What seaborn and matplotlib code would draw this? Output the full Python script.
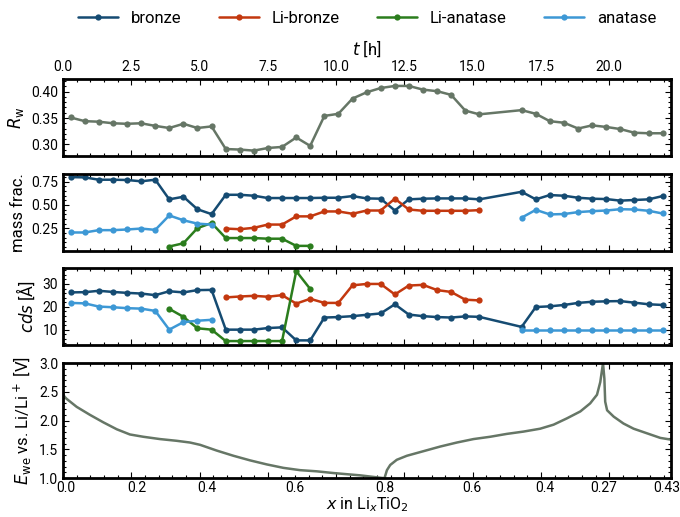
import numpy as np
import pandas as pd
import matplotlib
matplotlib.use("Agg")
import matplotlib.pyplot as plt
import matplotlib.transforms as mtransforms
from matplotlib.ticker import AutoMinorLocator, MultipleLocator
import seaborn as sns

# measurement times [h] (two scans missing around 16 h)
t_h = [0.28, 0.80, 1.31, 1.83, 2.34, 2.86, 3.38, 3.89, 4.41, 4.92, 5.44,
       5.96, 6.47, 6.99, 7.50, 8.02, 8.54, 9.05, 9.57, 10.08, 10.60,
       11.12, 11.63, 12.15, 12.66, 13.18, 13.70, 14.21, 14.73, 15.24,
       16.79, 17.31, 17.82, 18.34, 18.86, 19.37, 19.89, 20.40, 20.92, 21.44, 21.95]

rw = [0.351, 0.344, 0.343, 0.340, 0.339, 0.340, 0.335, 0.331, 0.339, 0.331, 0.334,
      0.291, 0.290, 0.288, 0.293, 0.295, 0.313, 0.297, 0.354, 0.358, 0.387,
      0.399, 0.407, 0.411, 0.411, 0.404, 0.401, 0.394, 0.364, 0.357,
      0.365, 0.358, 0.344, 0.341, 0.330, 0.336, 0.333, 0.329, 0.322, 0.321, 0.321]

N = None
# mass fractions
mf_bronze = [0.799, 0.796, 0.771, 0.771, 0.768, 0.754, 0.771, 0.560, 0.588, 0.454, 0.401,
             0.609, 0.609, 0.599, 0.574, 0.574, 0.574, 0.574, 0.577, 0.577, 0.595,
             0.570, 0.567, 0.440, 0.560, 0.567, 0.570, 0.570, 0.570, 0.560,
             0.641, 0.560, 0.606, 0.599, 0.577, 0.567, 0.563, 0.546, 0.553, 0.560, 0.595]
mf_libronze = [N, N, N, N, N, N, N, N, N, N, N,
               0.246, 0.239, 0.254, 0.289, 0.289, 0.377, 0.377, 0.430, 0.430, 0.405,
               0.440, 0.440, 0.567, 0.451, 0.437, 0.437, 0.437, 0.437, 0.444,
               N, N, N, N, N, N, N, N, N, N, N]
mf_lianatase = [N, N, N, N, N, N, N, 0.053, 0.088, 0.250, 0.306,
                0.144, 0.144, 0.144, 0.137, 0.137, 0.060, 0.060, N, N, N,
                N, N, N, N, N, N, N, N, N,
                N, N, N, N, N, N, N, N, N, N, N]
mf_anatase = [0.204, 0.204, 0.229, 0.229, 0.236, 0.246, 0.232, 0.387, 0.335, 0.299, 0.289,
              N, N, N, N, N, N, N, N, N, N,
              N, N, N, N, N, N, N, N, N,
              0.363, 0.447, 0.398, 0.402, 0.423, 0.433, 0.440, 0.454, 0.451, 0.437, 0.408]

# crystallite domain sizes [Å]
cds_bronze = [26.3, 26.4, 27.0, 26.5, 26.1, 25.8, 25.1, 26.8, 26.3, 27.3, 27.4,
              10.0, 10.0, 10.0, 10.7, 11.0, 5.3, 5.3, 15.3, 15.5, 15.9,
              16.5, 17.1, 21.1, 16.6, 15.9, 15.5, 15.3, 15.8, 15.6,
              11.2, 19.9, 20.2, 20.8, 21.7, 22.2, 22.4, 22.5, 21.8, 21.1, 20.8]
cds_libronze = [N, N, N, N, N, N, N, N, N, N, N,
                24.1, 24.5, 24.8, 24.4, 25.1, 21.4, 23.5, 21.7, 21.7, 29.4,
                30.0, 30.0, 25.4, 29.3, 29.6, 27.3, 26.5, 23.1, 22.8,
                N, N, N, N, N, N, N, N, N, N, N]
cds_lianatase = [N, N, N, N, N, N, N, 19.1, 15.6, 10.6, 10.0,
                 5.0, 5.0, 5.0, 5.0, 5.0, 35.6, 27.8, N, N, N,
                 N, N, N, N, N, N, N, N, N,
                 N, N, N, N, N, N, N, N, N, N, N]
cds_anatase = [21.7, 21.5, 20.1, 19.8, 19.4, 19.2, 18.2, 10.0, 13.3, 13.9, 14.3,
               N, N, N, N, N, N, N, N, N, N,
               N, N, N, N, N, N, N, N, N,
               10.0, 10.0, 10.0, 10.0, 10.0, 10.0, 10.0, 10.0, 10.0, 10.0, 10.0]

# electrochemistry
e_t = [0.0, 0.05, 0.13, 0.50, 0.99, 1.48, 1.97, 2.45, 2.94, 3.55, 4.16, 4.65, 5.02,
       5.63, 6.24, 6.85, 7.46, 8.07, 8.68, 9.29, 9.90, 10.88, 11.77,
       11.86, 11.98, 12.22, 12.59, 13.20, 13.81, 14.42, 15.03, 15.64, 16.25,
       16.86, 17.47, 17.96, 18.45, 18.94, 19.30, 19.55, 19.67, 19.77,
       19.82, 19.85, 19.92, 20.16, 20.52, 20.89, 21.38, 21.87, 22.26]
e_we = [2.48, 2.42, 2.38, 2.24, 2.10, 1.97, 1.85, 1.76, 1.72, 1.68, 1.65, 1.62, 1.58,
        1.48, 1.39, 1.31, 1.24, 1.18, 1.14, 1.12, 1.09, 1.05, 1.00,
        1.14, 1.23, 1.32, 1.39, 1.47, 1.55, 1.62, 1.68, 1.72, 1.77,
        1.81, 1.86, 1.93, 2.04, 2.16, 2.30, 2.45, 2.67, 3.00,
        2.73, 2.33, 2.18, 2.07, 1.95, 1.86, 1.78, 1.70, 1.67]

# Li content labels on the bottom axis and where they sit in time
x_li_pos = [0.0, 2.71, 5.26, 8.50, 11.77, 14.97, 17.66, 19.79, 22.26]
x_li_lab = ["0.0", "0.2", "0.4", "0.6", "0.8", "0.6", "0.4", "0.27", "0.43"]

phases = ["bronze", "Li-bronze", "Li-anatase", "anatase"]
colors = {"bronze": "#154b72", "Li-bronze": "#c3380f",
          "Li-anatase": "#2b7d1d", "anatase": "#3d98d5"}
grey = "#667666"

sns.set_style("ticks")
plt.rcParams["font.family"] = ["Roboto", "DejaVu Sans"]
plt.rcParams["mathtext.fontset"] = "dejavusans"
plt.rcParams["xtick.direction"] = "in"
plt.rcParams["ytick.direction"] = "in"
plt.rcParams["axes.edgecolor"] = "black"
plt.rcParams["xtick.color"] = "black"
plt.rcParams["ytick.color"] = "black"
plt.rcParams["text.color"] = "black"
plt.rcParams["axes.labelcolor"] = "black"


def long_table(series):
    # one row per point, with a segment id so NaN gaps break the line
    rows = []
    for name, vals in series.items():
        seg = 0
        prev = False
        for t, v in zip(t_h, vals):
            if v is None:
                if prev:
                    seg += 1
                prev = False
                continue
            rows.append({"t": t, "val": v, "phase": name, "seg": seg})
            prev = True
    return pd.DataFrame(rows)


mf_df = long_table(dict(zip(phases, [mf_bronze, mf_libronze, mf_lianatase, mf_anatase])))
cds_df = long_table(dict(zip(phases, [cds_bronze, cds_libronze, cds_lianatase, cds_anatase])))

fig, axes = plt.subplots(4, 1, figsize=(6.8, 5.17), dpi=100, sharex=True,
                         gridspec_kw={"height_ratios": [1, 1, 1, 1.5]})
fig.subplots_adjust(left=0.0926, right=0.9868, bottom=0.075, top=0.847, hspace=0.207)
ax_rw, ax_mf, ax_cds, ax_e = axes

line_kw = dict(marker="o", markersize=4.5, markeredgewidth=0, linewidth=1.8)

sns.lineplot(x=t_h, y=rw, ax=ax_rw, color=grey, estimator=None, sort=False, **line_kw)

for ax, df in [(ax_mf, mf_df), (ax_cds, cds_df)]:
    sns.lineplot(data=df, x="t", y="val", hue="phase", units="seg", estimator=None,
                 palette=colors, hue_order=phases, sort=False, ax=ax, legend=False, **line_kw)

sns.lineplot(x=e_t, y=e_we, ax=ax_e, color=grey, estimator=None, sort=False, linewidth=1.8)

ax_rw.set_ylim(0.278, 0.424)
ax_rw.yaxis.set_major_locator(MultipleLocator(0.05))
ax_rw.set_ylabel(r"$R_\mathrm{w}$", fontsize=12)

ax_mf.set_ylim(0.01, 0.835)
ax_mf.set_yticks([0.25, 0.50, 0.75])
ax_mf.set_ylabel("mass frac.", fontsize=12)

ax_cds.set_ylim(3.2, 36.8)
ax_cds.set_yticks([10, 20, 30])
ax_cds.set_ylabel(r"$cds$ [Å]", fontsize=12)

ax_e.set_ylim(1.0, 3.0)
ax_e.yaxis.set_major_locator(MultipleLocator(0.5))
ax_e.set_ylabel(r"$E_\mathrm{we}$ vs. Li/Li$^+$ [V]", fontsize=12)

for ax in axes:
    ax.set_xlim(0, 22.26)
    ax.xaxis.set_major_locator(MultipleLocator(2.5))
    ax.xaxis.set_minor_locator(AutoMinorLocator(5))
    ax.yaxis.set_minor_locator(AutoMinorLocator(5))
    ax.tick_params(which="both", top=True, right=True, labelsize=10, width=0.8)
    ax.tick_params(which="major", length=4)
    ax.tick_params(which="minor", length=2)
    ax.tick_params(axis="x", labelbottom=False)
    for sp in ax.spines.values():
        sp.set_linewidth(2)
        sp.set_color("black")
    ax.set_xlabel("")

# time axis on top of the first panel
ax_rw.tick_params(axis="x", labeltop=True)
ax_rw.xaxis.set_label_position("top")
ax_rw.set_xlabel(r"$t$ [h]", fontsize=12, labelpad=4)
ax_rw.xaxis.label.set_visible(True)
ax_rw.xaxis.set_major_formatter(plt.FuncFormatter(lambda v, p: f"{v:.1f}"))

# Li content on the bottom
sec = ax_e.secondary_xaxis("bottom")
sec.set_xticks(x_li_pos)
sec.set_xticklabels(x_li_lab)
sec.tick_params(length=0, labelsize=10, pad=2)
sec.spines["bottom"].set_visible(False)
sec.set_xlabel(r"$x$ in Li$_x$TiO$_2$", fontsize=11.5, labelpad=0)
# nudge the edge labels so they stay inside the figure
edge_labels = sec.get_xticklabels()
edge_labels[0].set_transform(edge_labels[0].get_transform() +
                             mtransforms.ScaledTranslation(3 / 100, 0, fig.dpi_scale_trans))
edge_labels[-1].set_transform(edge_labels[-1].get_transform() +
                              mtransforms.ScaledTranslation(-4 / 100, 0, fig.dpi_scale_trans))

handles = [plt.Line2D([], [], color=colors[p], **line_kw) for p in phases]
fig.legend(handles, phases, loc="center", bbox_to_anchor=(0.54, 0.965), ncol=4,
           frameon=False, fontsize=12, handlelength=2.4, columnspacing=2.2)

fig.savefig("out.png", dpi=100)
